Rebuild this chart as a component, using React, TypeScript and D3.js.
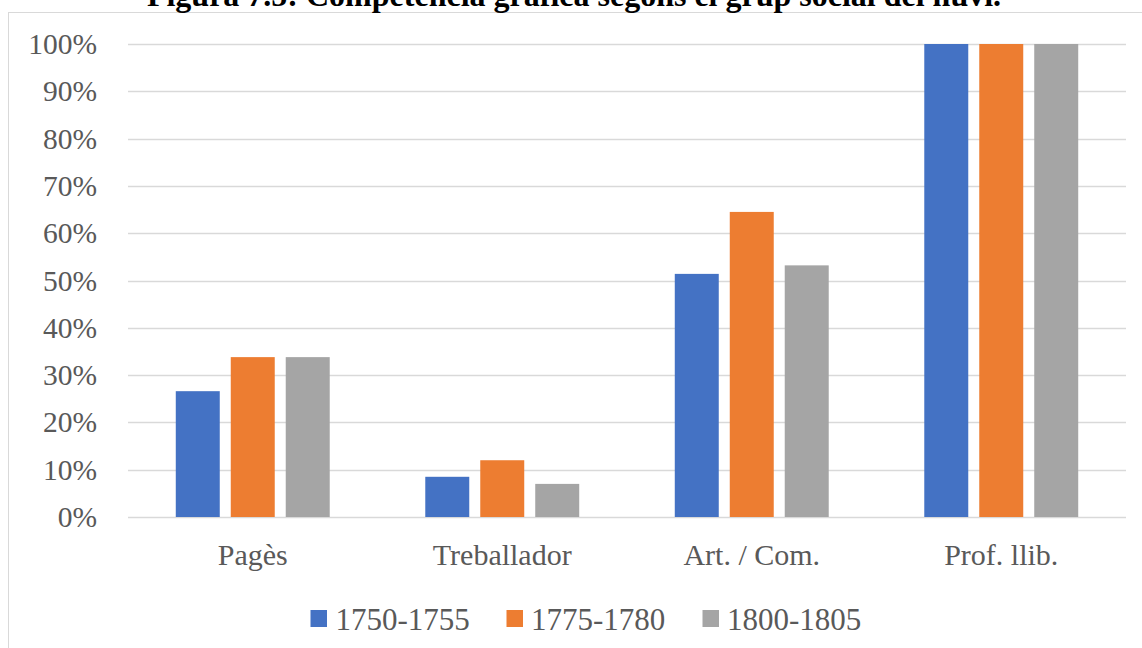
import React from "react";
import * as d3 from "d3";

const categories = ["Pagès", "Treballador", "Art. / Com.", "Prof. llib."];
const seriesNames = ["1750-1755", "1775-1780", "1800-1805"];
const s1750 = [26.6, 8.5, 51.4, 100];
const s1775 = [33.8, 12.0, 64.5, 100];
const s1800 = [33.8, 7.0, 53.2, 100];
const seriesValues = [s1750, s1775, s1800];
const colors = ["#4472C4", "#ED7D31", "#A5A5A5"];
const yTicks = [0, 10, 20, 30, 40, 50, 60, 70, 80, 90, 100];
const title = "Figura 7.5: Competència gràfica segons el grup social del nuvi.";

const W = 1142;
const H = 648;
const font = "'Liberation Serif', 'Times New Roman', serif";

export default function App() {
  const plotLeft = 128;
  const plotRight = 1126;
  const y = d3.scaleLinear().domain([0, 100]).range([517, 44]);
  const x0 = d3
    .scaleBand<string>()
    .domain(categories)
    .range([plotLeft, plotRight])
    .paddingInner(0.383)
    .paddingOuter(0.383 / 2);
  const x1 = d3
    .scaleBand<string>()
    .domain(seriesNames)
    .range([0, x0.bandwidth()])
    .paddingInner(0.2)
    .paddingOuter(0);

  const legendItems = [
    { sq: 310.5, tx: 335.5 },
    { sq: 506.5, tx: 531 },
    { sq: 702.5, tx: 727 },
  ];

  return (
    <div style={{ position: "absolute", left: 0, top: 0 }}>
      <svg width={W} height={H} style={{ display: "block", background: "#fff" }}>
        <rect x={8.5} y={12.5} width={W + 20} height={H + 20} fill="#fff" stroke="#D9D9D9" strokeWidth={1} />
        <text x={574} y={6} textAnchor="middle" fontFamily={font} fontWeight="bold" fontSize={32} fill="#000">
          {title}
        </text>
        {yTicks.map((t) => (
          <g key={t}>
            <line x1={plotLeft} x2={plotRight} y1={Math.round(y(t)) + 0.5} y2={Math.round(y(t)) + 0.5} stroke="#D9D9D9" strokeWidth={1.5} />
            <text x={97} y={y(t) + 10} textAnchor="end" fontFamily={font} fontSize={29.5} fill="#595959">
              {t}%
            </text>
          </g>
        ))}
        {categories.map((c, ci) => (
          <g key={c}>
            {seriesNames.map((s, si) => {
              const v = seriesValues[si][ci];
              const bx = (x0(c) as number) + (x1(s) as number);
              return (
                <rect key={s} x={bx} y={y(v)} width={x1.bandwidth()} height={y(0) - y(v)} fill={colors[si]} />
              );
            })}
            <text x={(x0(c) as number) + x0.bandwidth() / 2} y={565} textAnchor="middle" fontFamily={font} fontSize={30} fill="#595959">
              {c}
            </text>
          </g>
        ))}
        {seriesNames.map((s, i) => (
          <g key={s}>
            <rect x={legendItems[i].sq} y={610} width={16.5} height={17} fill={colors[i]} />
            <text x={legendItems[i].tx} y={630} fontFamily={font} fontSize={31} fill="#595959">
              {s}
            </text>
          </g>
        ))}
      </svg>
    </div>
  );
}
